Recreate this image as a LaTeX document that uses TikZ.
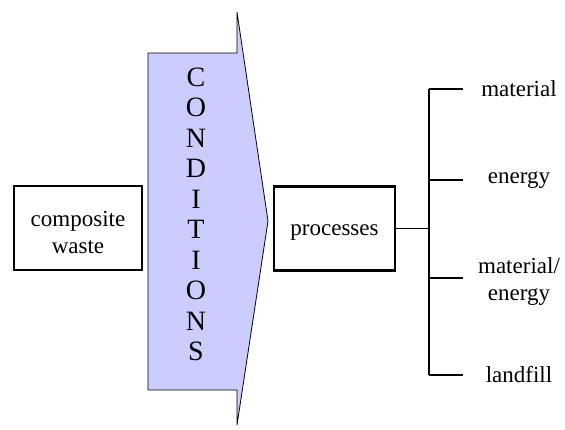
\documentclass[tikz,border=0pt]{standalone}
\usepackage{fontspec}
\setmainfont{Liberation Serif}
\begin{document}
\begin{tikzpicture}[x=1pt,y=-1pt,
  labelfont/.style={font=\fontsize{23}{27}\selectfont},
  boxnode/.style={draw,line width=2.2pt,inner sep=0pt},
  leaf/.style={labelfont,align=center,inner sep=0pt},
  letter/.style={font=\fontsize{28}{28}\selectfont,inner sep=0pt},
  tree/.style={line width=1.3pt}]
\useasboundingbox (0,0) rectangle (565,429);

% the CONDITIONS chevron
\definecolor{chevronfill}{RGB}{204,204,255}
\draw[fill=chevronfill,line width=0.8pt,line join=miter]
  (148,53) -- (237,53) -- (237,12) -- (268,221) -- (237,425) -- (237,390)
  -- (148,390) -- cycle;
\foreach \ch [count=\i from 0] in {C,O,N,D,I,T,I,O,N,S}
  \node[letter] (cond\i) at (196,{77+30.5*\i}) {\ch};

% input and process boxes, with their captions set a little low
\node[boxnode,minimum width=128pt,minimum height=84pt] (waste) at (78,228) {};
\node[leaf] (wastetext) at (78,232) {composite\\waste};
\node[boxnode,minimum width=121pt,minimum height=84pt] (proc) at (334.5,228.5) {};
\node[leaf] (proctext) at (334.5,233) {processes};

% output tree
\coordinate (hub) at (429,228.5);
\coordinate (t1) at (429,89);
\coordinate (t2) at (429,180);
\coordinate (t3) at (429,278);
\coordinate (t4) at (429,375);
\coordinate (e1) at (463,89);
\coordinate (e2) at (463,180);
\coordinate (e3) at (463,278);
\coordinate (e4) at (463,375);
\draw[tree] (proc.east) -- (hub);
\draw[tree] (t1) -- (t4);
\draw[tree] (t1) -- (e1);
\draw[tree] (t2) -- (e2);
\draw[tree] (t3) -- (e3);
\draw[tree] (t4) -- (e4);

\node[leaf] (out1) at (519,89) {material};
\node[leaf] (out2) at (519,180) {energy};
\node[leaf] (out3) at (519,281) {material/\\energy};
\node[leaf] (out4) at (519,375) {landfill};
\end{tikzpicture}
\end{document}
